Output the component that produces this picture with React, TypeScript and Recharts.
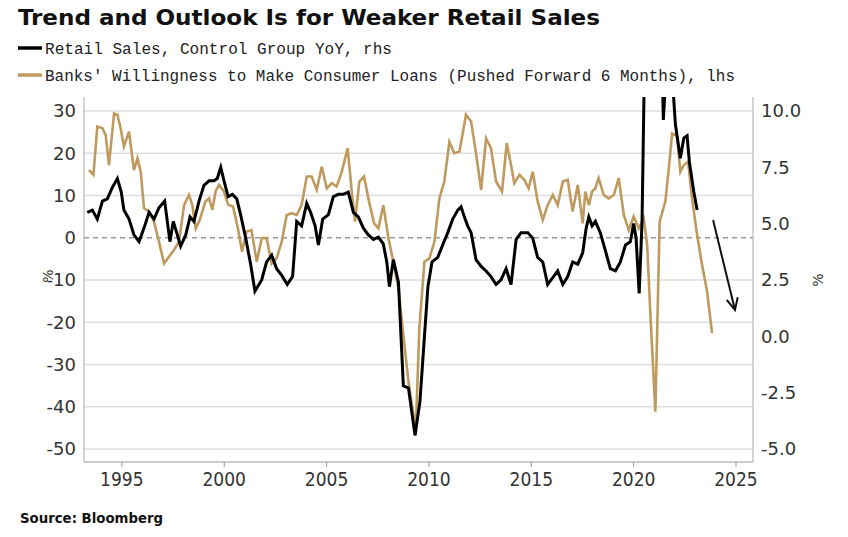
import React from "react";
import { LineChart, Line, XAxis, YAxis, ReferenceLine } from "recharts";

// Retail Sales, Control Group YoY (rhs, %)
const retailYears = [
  1993.31, 1993.56, 1993.8, 1994.05, 1994.29, 1994.53, 1994.78, 1994.97, 1995.1, 1995.35,
  1995.59, 1995.84, 1996.08, 1996.33, 1996.57, 1996.81, 1997.09, 1997.35, 1997.51, 1997.71,
  1997.87, 1998.12, 1998.33, 1998.52, 1998.77, 1999.01, 1999.26, 1999.5, 1999.66, 1999.83,
  1999.99, 2000.19, 2000.4, 2000.61, 2000.8, 2001.05, 2001.29, 2001.5, 2001.83, 2002.07,
  2002.32, 2002.56, 2002.81, 2003.08, 2003.34, 2003.54, 2003.78, 2004.03, 2004.22, 2004.44,
  2004.6, 2004.81, 2005.09, 2005.33, 2005.58, 2005.82, 2006.06, 2006.31, 2006.55, 2006.8,
  2007.04, 2007.29, 2007.53, 2007.77, 2007.94, 2008.07, 2008.26, 2008.51, 2008.75, 2009.0,
  2009.32, 2009.56, 2009.75, 2009.95, 2010.15, 2010.43, 2010.67, 2010.92, 2011.16, 2011.41,
  2011.57, 2011.73, 2011.89, 2012.06, 2012.3, 2012.55, 2012.79, 2013.03, 2013.28, 2013.52,
  2013.77, 2014.01, 2014.26, 2014.5, 2014.83, 2015.07, 2015.31, 2015.56, 2015.8, 2016.05,
  2016.29, 2016.54, 2016.78, 2017.02, 2017.27, 2017.51, 2017.68, 2017.81, 2017.97, 2018.13,
  2018.37, 2018.62, 2018.86, 2019.11, 2019.35, 2019.6, 2019.84, 2020.0, 2020.12, 2020.27,
  2020.41, 2020.56, 2020.9, 2021.3, 2021.45, 2021.6, 2021.85, 2022.04, 2022.28, 2022.45,
  2022.61, 2022.72, 2022.94, 2023.1,
];
const retailValues = [
  5.5, 5.6, 5.2, 6.0, 6.1, 6.6, 7.0, 6.4, 5.6, 5.2,
  4.5, 4.2, 4.8, 5.5, 5.2, 5.7, 6.0, 4.2, 5.1, 4.5,
  4.0, 4.5, 5.3, 5.1, 6.0, 6.7, 6.9, 6.9, 7.0, 7.5,
  6.9, 6.2, 6.3, 6.1, 5.4, 4.35, 3.2, 2.0, 2.5, 3.3,
  3.6, 3.0, 2.7, 2.3, 2.65, 5.1, 4.9, 5.9, 5.5, 4.9,
  4.05, 5.2, 5.4, 6.2, 6.3, 6.3, 6.4, 5.5, 5.3, 4.8,
  4.5, 4.3, 4.4, 4.1, 3.3, 2.2, 3.4, 2.4, -2.2, -2.3,
  -4.4, -2.9, -0.4, 2.2, 3.3, 3.5, 4.05, 4.6, 5.2, 5.6,
  5.75, 5.3, 4.9, 4.6, 3.4, 3.1, 2.9, 2.65, 2.3, 2.5,
  3.0, 2.3, 4.3, 4.6, 4.6, 4.35, 3.5, 3.3, 2.3, 2.6,
  2.9, 2.3, 2.65, 3.3, 3.2, 3.7, 4.8, 5.3, 4.9, 5.1,
  4.6, 3.8, 3.0, 2.9, 3.3, 4.05, 4.2, 5.0, 4.35, 1.9,
  5.1, 14, 18, 16, 9.6, 12, 12, 9.4, 7.9, 8.8,
  8.9, 7.75, 6.4, 5.6,
];

// Banks' Willingness to Make Consumer Loans, pushed forward 6 months (lhs, %)
const loanYears = [
  1993.39, 1993.61, 1993.8, 1994.05, 1994.21, 1994.37, 1994.62, 1994.78, 1994.94, 1995.1,
  1995.35, 1995.59, 1995.76, 1995.92, 1996.08, 1996.33, 1996.57, 1996.81, 1997.06, 1997.3,
  1997.55, 1997.79, 1998.04, 1998.28, 1998.44, 1998.61, 1998.77, 1998.93, 1999.09, 1999.26,
  1999.42, 1999.58, 1999.75, 1999.99, 2000.19, 2000.43, 2000.67, 2000.87, 2001.08, 2001.33,
  2001.59, 2001.83, 2002.07, 2002.32, 2002.56, 2002.81, 2003.05, 2003.3, 2003.54, 2003.78,
  2004.03, 2004.27, 2004.52, 2004.76, 2005.01, 2005.25, 2005.49, 2005.74, 2006.03, 2006.23,
  2006.39, 2006.6, 2006.83, 2007.07, 2007.32, 2007.53, 2007.77, 2008.02, 2008.26, 2008.51,
  2008.75, 2009.0, 2009.24, 2009.35, 2009.53, 2009.78, 2010.02, 2010.27, 2010.51, 2010.75,
  2011.0, 2011.24, 2011.49, 2011.81, 2012.06, 2012.3, 2012.55, 2012.79, 2013.03, 2013.28,
  2013.57, 2013.8, 2014.01, 2014.17, 2014.42, 2014.66, 2014.87, 2015.07, 2015.31, 2015.56,
  2015.8, 2016.05, 2016.29, 2016.54, 2016.78, 2017.02, 2017.27, 2017.51, 2017.64, 2017.81,
  2017.97, 2018.13, 2018.29, 2018.54, 2018.78, 2019.03, 2019.27, 2019.52, 2019.76, 2020.0,
  2020.25, 2020.49, 2020.66, 2020.82, 2021.06, 2021.27, 2021.55, 2021.75, 2021.88, 2022.12,
  2022.28, 2022.45, 2022.66, 2022.85, 2023.1, 2023.34, 2023.59, 2023.83,
];
const loanValues = [
  16.0, 14.9, 26.3, 25.9, 24.3, 17.2, 29.4, 29.1, 25.9, 21.6,
  25.1, 16.0, 18.8, 15.6, 7.0, 6.2, 3.8, -0.9, -6.1, -4.5,
  -2.9, -0.9, 7.7, 10.1, 7.7, 2.2, 3.8, 6.2, 8.6, 9.3,
  6.6, 11.0, 12.5, 10.9, 7.8, 7.4, 2.2, -3.3, 1.4, 1.8,
  -5.7, -0.1, -0.1, -6.1, -4.9, -0.9, 5.4, 5.8, 5.4, 7.7,
  14.5, 14.5, 11.3, 16.8, 11.7, 12.9, 12.1, 15.6, 21.2, 10.9,
  3.8, 13.3, 14.5, 8.6, 3.4, 2.2, 7.7, -0.1, -5.7, -12.0,
  -23.0, -34.1, -41.9, -46.5, -21.4, -5.7, -4.9, -0.9, 9.3, 13.3,
  22.7, 20.0, 20.4, 29.1, 27.5, 20.0, 11.3, 23.5, 21.2, 13.3,
  10.9, 22.4, 17.2, 12.9, 14.9, 13.7, 11.7, 15.6, 8.6, 4.2,
  7.7, 10.1, 7.7, 13.3, 13.7, 6.2, 12.5, 3.4, 10.9, 7.7,
  10.9, 11.7, 14.1, 10.1, 9.3, 10.1, 14.1, 5.4, 1.8, 5.0,
  2.2, 4.6, -1.7, -18.3, -41.2, 3.8, 8.6, 18.0, 24.7, 24.0,
  15.6, 17.2, 18.0, 9.3, 0.7, -6.4, -12.8, -22.6,
];

const yearTicks = [1995, 2000, 2005, 2010, 2015, 2020, 2025];
const leftTicks = [30, 20, 10, 0, -10, -20, -30, -40, -50];
const rightTicks = [10, 7.5, 5, 2.5, 0, -2.5, -5];

// outlook arrow, in (year, rhs value)
const arrowFrom = { year: 2023.88, value: 5.16 };
const arrowTo = { year: 2024.95, value: 1.17 };

const retailData = retailYears.map((year, i) => ({ year, retail: retailValues[i] }));
const loanData = loanYears.map((year, i) => ({ year, loans: loanValues[i] }));

const TAN = "#BF9A5E";
const tickStyle = { fill: "#333", fontSize: 18, fontFamily: "'DejaVu Sans', sans-serif" };

function Arrow(props: any) {
  const { x1, y1, x2, y2 } = props;
  const ang = Math.atan2(y2 - y1, x2 - x1);
  const len = 13;
  const a1 = ang + Math.PI - 0.45;
  const a2 = ang + Math.PI + 0.45;
  return (
    <g>
      <line x1={x1} y1={y1} x2={x2} y2={y2} stroke="#111" strokeWidth={2} />
      <path
        d={`M${x2 + len * Math.cos(a1)},${y2 + len * Math.sin(a1)} L${x2},${y2} L${x2 + len * Math.cos(a2)},${y2 + len * Math.sin(a2)}`}
        fill="none"
        stroke="#111"
        strokeWidth={2}
      />
    </g>
  );
}

export default function App() {
  return (
    <div style={{ position: "absolute", left: 0, top: 0, width: 848, height: 537, background: "#fff" }}>
      <LineChart width={848} height={537} margin={{ top: 97, right: 35, bottom: 45, left: 44 }}>
        <XAxis
          dataKey="year"
          type="number"
          domain={[1993.15, 2025.83]}
          ticks={yearTicks}
          allowDataOverflow
          height={30}
          stroke="#999"
          tickSize={5}
          tickMargin={6}
          tick={{ ...tickStyle, fontSize: 19, fontFamily: "'DejaVu Sans Condensed', 'DejaVu Sans', sans-serif" }}
        />
        <YAxis
          yAxisId="left"
          orientation="left"
          width={40}
          domain={[-53.08, 33.3]}
          ticks={leftTicks}
          allowDataOverflow
          interval={0}
          stroke="#aaa"
          tickLine={false}
          tick={tickStyle}
        />
        <YAxis
          yAxisId="right"
          orientation="right"
          width={60}
          domain={[-5.58, 10.62]}
          ticks={rightTicks}
          allowDataOverflow
          interval={0}
          stroke="#aaa"
          tickLine={false}
          tick={tickStyle}
          tickFormatter={(v: number) => v.toFixed(1)}
        />
        {leftTicks.map((v) => (
          <ReferenceLine
            key={v}
            yAxisId="left"
            y={v}
            stroke={v === 0 ? "#9a9a9a" : "#dedede"}
            strokeWidth={v === 0 ? 1.5 : 1.5}
            strokeDasharray={v === 0 ? "5 4" : undefined}
          />
        ))}
        <Line
          data={loanData}
          yAxisId="left"
          dataKey="loans"
          stroke={TAN}
          strokeWidth={2.6}
          dot={false}
          isAnimationActive={false}
        />
        <Line
          data={retailData}
          yAxisId="right"
          dataKey="retail"
          stroke="#000"
          strokeWidth={3}
          dot={false}
          isAnimationActive={false}
        />
        <ReferenceLine
          yAxisId="right"
          segment={[
            { x: arrowFrom.year, y: arrowFrom.value },
            { x: arrowTo.year, y: arrowTo.value },
          ]}
          shape={Arrow}
          ifOverflow="visible"
        />
      </LineChart>

      <svg
        width={848}
        height={537}
        style={{ position: "absolute", left: 0, top: 0, pointerEvents: "none" }}
      >
        <text
          x={18}
          y={25}
          fontSize={21}
          fontWeight="bold"
          fill="#111"
          fontFamily="'DejaVu Sans Condensed', 'DejaVu Sans', sans-serif"
          textLength={582}
          lengthAdjust="spacingAndGlyphs"
        >
          Trend and Outlook Is for Weaker Retail Sales
        </text>
        <line x1={18} y1={48} x2={42} y2={48} stroke="#000" strokeWidth={3.5} />
        <text
          x={45}
          y={54}
          fontSize={16}
          fill="#222"
          fontFamily="'Liberation Mono', monospace"
          textLength={347}
          lengthAdjust="spacingAndGlyphs"
        >
          Retail Sales, Control Group YoY, rhs
        </text>
        <line x1={18} y1={75} x2={42} y2={75} stroke={TAN} strokeWidth={3.5} />
        <text
          x={45}
          y={81}
          fontSize={16}
          fill="#222"
          fontFamily="'Liberation Mono', monospace"
          textLength={690}
          lengthAdjust="spacingAndGlyphs"
        >
          Banks' Willingness to Make Consumer Loans (Pushed Forward 6 Months), lhs
        </text>
        <text
          x={20}
          y={523}
          fontSize={14}
          fontWeight="bold"
          fill="#111"
          fontFamily="'DejaVu Sans Condensed', 'DejaVu Sans', sans-serif"
          textLength={143}
          lengthAdjust="spacingAndGlyphs"
        >
          Source: Bloomberg
        </text>
        <text
          x={48}
          y={276}
          fontSize={14}
          fill="#333"
          textAnchor="middle"
          dominantBaseline="central"
          fontFamily="'DejaVu Sans', sans-serif"
          transform="rotate(-90 48 276)"
        >
          %
        </text>
        <text
          x={818}
          y={280}
          fontSize={14}
          fill="#333"
          textAnchor="middle"
          dominantBaseline="central"
          fontFamily="'DejaVu Sans', sans-serif"
          transform="rotate(-90 818 280)"
        >
          %
        </text>
      </svg>
    </div>
  );
}
